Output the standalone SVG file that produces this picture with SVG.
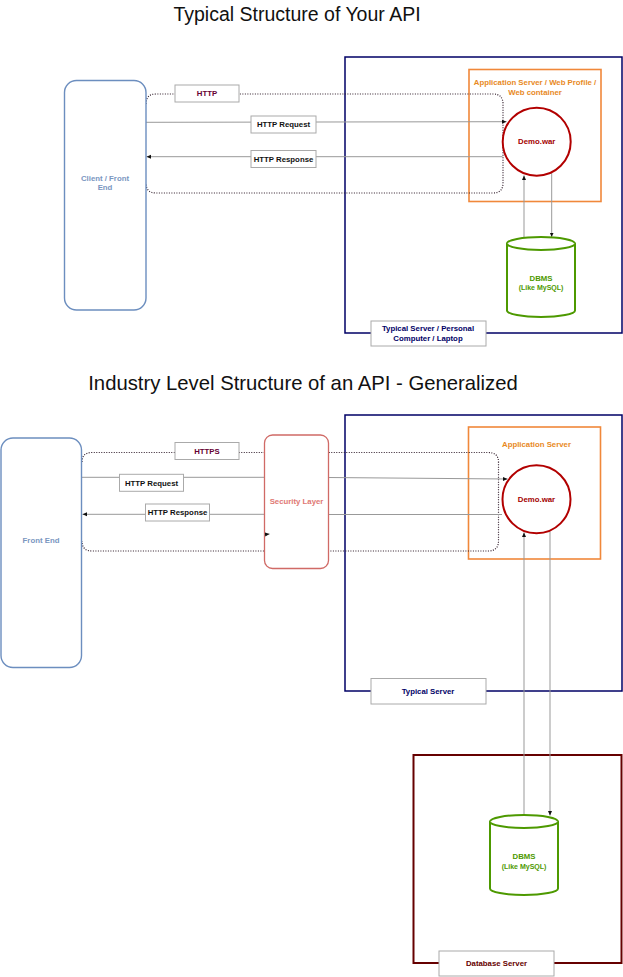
<svg xmlns="http://www.w3.org/2000/svg" width="623" height="977" viewBox="0 0 623 977">
<defs>
<marker id="arr" markerUnits="userSpaceOnUse" markerWidth="5" markerHeight="5" refX="4.5" refY="2.5" orient="auto">
<path d="M0,0.5 L4.5,2.5 L0,4.5 Z" fill="#111"/>
</marker>
<style>
text{font-family:"Liberation Sans",Arial,sans-serif;text-anchor:middle}
.title{font-size:19.5px;fill:#111}
.title2{font-size:20.3px;fill:#111}
.lbl{font-size:7.8px;font-weight:bold}
.small{font-size:7px;font-weight:bold}
.navy{fill:none;stroke:#000066;stroke-width:1.5}
.orange{fill:none;stroke:#f0883a;stroke-width:1.6}
.tag{fill:#fff;stroke:#aaaaaa;stroke-width:1}
.ln{fill:none;stroke:#999;stroke-width:1}
.dot{fill:none;stroke:#2e1a28;stroke-width:1.2;stroke-dasharray:1 1.5}
.client{fill:#fff;stroke:#6c8ebf;stroke-width:1.4}
.war{fill:#fff;stroke:#b20000;stroke-width:2}
.db{fill:#fff;stroke:#4d9900;stroke-width:2}
</style>
</defs>
<rect width="623" height="977" fill="#fff"/>

<g id="titles">
<text class="title" x="297" y="21">Typical Structure of Your API</text>
<text class="title2" x="303" y="390">Industry Level Structure of an API - Generalized</text>
</g>

<g id="server1">
<rect class="navy" x="345" y="57" width="277" height="276"/>
<rect class="tag" x="371" y="321" width="115" height="25"/>
<text class="lbl" x="428" y="331.3" fill="#000066">Typical Server / Personal</text>
<text class="lbl" x="428" y="340.6" fill="#000066">Computer / Laptop</text>
</g>
<g id="appserver1">
<rect class="orange" x="469" y="69.5" width="132" height="132"/>
<text class="lbl" x="535" y="85" fill="#e8891e">Application Server / Web Profile /</text>
<text class="lbl" x="535" y="94.5" fill="#e8891e">Web container</text>
</g>

<g id="server2">
<rect class="navy" x="345" y="415" width="277" height="276"/>
<rect class="tag" x="371" y="678.5" width="115" height="25.5"/>
<text class="lbl" x="428" y="694" fill="#000066">Typical Server</text>
</g>
<g id="appserver2">
<rect class="orange" x="468.5" y="427" width="132" height="132"/>
<text class="lbl" x="536.5" y="446.5" fill="#e8891e">Application Server</text>
</g>
<g id="dbserver">
<rect x="413.5" y="755" width="208" height="208" fill="none" stroke="#660000" stroke-width="2"/>
<rect class="tag" x="439" y="951" width="115" height="25"/>
<text class="lbl" x="496.5" y="965.5" fill="#660000">Database Server</text>
</g>

<g id="connectors">
<path class="dot" d="M146,104 Q146,94 156,94 H493 Q503,94 503,104 V183 Q503,193 493,193 H156 Q146,193 146,183"/>
<line class="ln" x1="146" y1="122.3" x2="506.5" y2="121.7" marker-end="url(#arr)"/>
<line class="ln" x1="502.5" y1="156.7" x2="146.5" y2="156.7" marker-end="url(#arr)"/>
<line class="ln" x1="524" y1="237" x2="524" y2="175.5" marker-end="url(#arr)"/>
<line class="ln" x1="551.7" y1="172.5" x2="551.7" y2="237" marker-end="url(#arr)"/>
<rect class="tag" x="175" y="85" width="64" height="17"/>
<text class="lbl" x="207" y="96.3" fill="#660033">HTTP</text>
<rect class="tag" x="251" y="116" width="65" height="17"/>
<text class="lbl" x="283.5" y="127.3" fill="#111">HTTP Request</text>
<rect class="tag" x="251" y="150.5" width="65" height="17"/>
<text class="lbl" x="283.5" y="161.8" fill="#111">HTTP Response</text>

<path class="dot" d="M82,462 Q82,452.5 92,452.5 H488 Q498.5,452.5 498.5,462 V541 Q498.5,551 488,551 H92 Q82,551 82,541"/>
<line class="ln" x1="82" y1="477.3" x2="264.5" y2="477.3"/>
<line class="ln" x1="328" y1="477.5" x2="507.5" y2="479" marker-end="url(#arr)"/>
<line class="ln" x1="502" y1="514.5" x2="328" y2="514.5"/>
<line class="ln" x1="264.5" y1="514.3" x2="82.5" y2="514.3" marker-end="url(#arr)"/>
<line class="ln" x1="524" y1="815" x2="524" y2="532.5" marker-end="url(#arr)"/>
<line class="ln" x1="550" y1="531.5" x2="550" y2="815.5" marker-end="url(#arr)"/>
<rect class="tag" x="175" y="442.5" width="64" height="17"/>
<text class="lbl" x="207" y="453.8" fill="#660033">HTTPS</text>
<rect class="tag" x="119.5" y="474.3" width="64" height="17"/>
<text class="lbl" x="151.5" y="485.6" fill="#111">HTTP Request</text>
<rect class="tag" x="145.5" y="504" width="64" height="17"/>
<text class="lbl" x="177.5" y="515.3" fill="#111">HTTP Response</text>
</g>

<g id="client">
<rect class="client" x="64.5" y="80.5" width="81.5" height="229.5" rx="12"/>
<text class="lbl" x="105" y="180.5" fill="#7a96bf">Client / Front</text>
<text class="lbl" x="105" y="190" fill="#7a96bf">End</text>
</g>
<g id="demowar1">
<circle class="war" cx="536.7" cy="141.7" r="34"/>
<text class="lbl" x="536.7" y="144.3" fill="#a30000">Demo.war</text>
</g>
<g id="dbms1">
<path class="db" d="M507,243.5 A34,6.5 0 0 1 575,243.5 V310.5 A34,6.5 0 0 1 507,310.5 Z"/>
<path class="db" d="M507,243.5 A34,6.5 0 0 0 575,243.5" fill="none"/>
<text class="lbl" x="541" y="280.5" fill="#4d9900">DBMS</text>
<text class="small" x="541" y="289.5" fill="#4d9900">(Like MySQL)</text>
</g>

<g id="frontend">
<rect class="client" x="1" y="438" width="80.5" height="229.5" rx="12"/>
<text class="lbl" x="41" y="542.5" fill="#7a96bf">Front End</text>
</g>
<g id="security">
<rect x="264.5" y="435" width="64" height="133.5" rx="8" fill="#fff" stroke="#d06a66" stroke-width="1.3"/>
<text class="lbl" x="296.5" y="504.3" fill="#e07874">Security Layer</text>
<line class="ln" x1="264.5" y1="534.6" x2="269.5" y2="534" marker-end="url(#arr)"/>
</g>
<g id="demowar2">
<circle class="war" cx="536.5" cy="499.3" r="34"/>
<text class="lbl" x="536.5" y="502" fill="#a30000">Demo.war</text>
</g>
<g id="dbms2">
<path class="db" d="M490,821.5 A34,6.5 0 0 1 558,821.5 V888.5 A34,6.5 0 0 1 490,888.5 Z"/>
<path class="db" d="M490,821.5 A34,6.5 0 0 0 558,821.5" fill="none"/>
<text class="lbl" x="524" y="859.3" fill="#4d9900">DBMS</text>
<text class="small" x="524" y="869" fill="#4d9900">(Like MySQL)</text>
</g>
</svg>
